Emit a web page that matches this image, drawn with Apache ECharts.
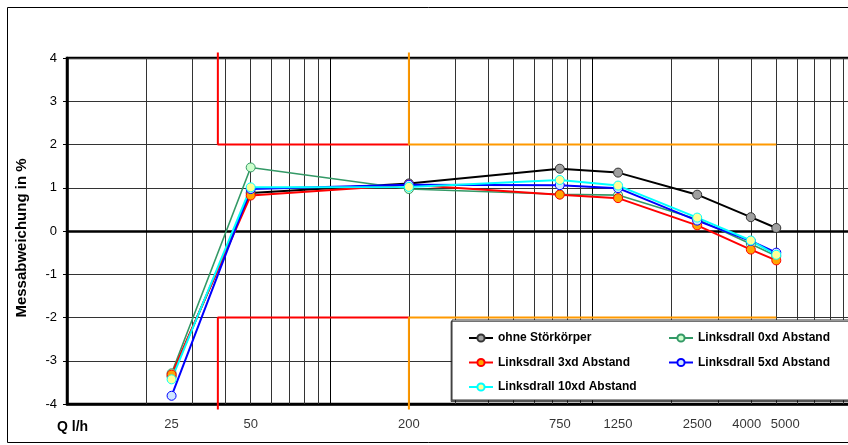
<!DOCTYPE html>
<html><head><meta charset="utf-8">
<script src="https://cdn.jsdelivr.net/npm/echarts@6/dist/echarts.min.js"></script>
<style>html,body{margin:0;padding:0;background:#fff}#c{width:848px;height:445px}</style>
</head><body><div id="c"></div>
<script>
// ---- data ----
var flowQ = [25, 50, 200, 750, 1250, 2500, 4000, 5000];
var xTickLabels = [25, 50, 200, 750, 1250, 2500, 4000, 5000];
var seriesNames = ['ohne Störkörper', 'Linksdrall 0xd Abstand', 'Linksdrall 3xd Abstand', 'Linksdrall 5xd Abstand', 'Linksdrall 10xd Abstand'];
var ohne   = [-3.36, 0.88, 1.10, 1.44, 1.35, 0.84, 0.32, 0.07];
var ld0xd  = [-3.29, 1.47, 0.97, 0.85, 0.83, 0.27, -0.30, -0.58];
var ld3xd  = [-3.32, 0.82, 1.07, 0.84, 0.76, 0.13, -0.43, -0.68];
var ld5xd  = [-3.81, 0.97, 1.07, 1.06, 0.99, 0.24, -0.23, -0.50];
var ld10xd = [-3.43, 1.01, 1.02, 1.18, 1.05, 0.31, -0.22, -0.55];
// error limits: Qmin, Qt, Qmax and tolerance
var limitQ = [37.5, 200, 5000];
var limitTol = 2;
var limitEdge = 4.13;   // limit lines run a little past the plot edge
var yTicks = [-4, -3, -2, -1, 0, 1, 2, 3, 4];

// ---- build ----
var chart = echarts.init(document.getElementById('c'), null, {renderer: 'canvas'});
var FONT = '"Liberation Sans", Arial, sans-serif';
function zip(xs, ys) { return xs.map(function (x, i) { return [x, ys[i]]; }); }

var styles = [
  {line: '#000000', fill: '#a0a0a0', border: '#333333', w: 2},
  {line: '#339966', fill: '#ccffcc', border: '#339966', w: 1.6},
  {line: '#ff0000', fill: '#ffa500', border: '#ff0000', w: 2},
  {line: '#0000ff', fill: '#cfe6ff', border: '#0000ff', w: 2},
  {line: '#00ffff', fill: '#ffff99', border: '#00ffff', w: 2}
];
var values = [ohne, ld0xd, ld3xd, ld5xd, ld10xd];

// minor vertical gridlines of the log axis (2..9 per decade)
var minorX = [];
[10, 100, 1000].forEach(function (d) { for (var m = 2; m <= 9; m++) minorX.push(d * m); });

var series = [];
series.push({
  name: '_grid', type: 'line', data: [], silent: true, z: 1,
  markLine: {
    silent: true, symbol: ['none', 'none'], label: {show: false}, animation: false, z: 1,
    lineStyle: {color: '#333', width: 1, type: 'solid'},
    data: minorX.map(function (v) { return {xAxis: v}; })
      .concat([{yAxis: 0, lineStyle: {color: '#000', width: 2.5, type: 'solid'}}])
  }
});

// limit lines
function limitSeries(color, x0, x1, sign) {
  return {
    name: '_lim', type: 'line', silent: true, clip: false, symbol: 'none', z: 3,
    lineStyle: {color: color, width: 2},
    data: [[x0, sign * limitEdge], [x0, sign * limitTol], [x1, sign * limitTol]]
  };
}
series.push(limitSeries('#ff0000', limitQ[0], limitQ[1], 1));
series.push(limitSeries('#ff0000', limitQ[0], limitQ[1], -1));
series.push(limitSeries('#ff9900', limitQ[1], limitQ[2], 1));
series.push(limitSeries('#ff9900', limitQ[1], limitQ[2], -1));

values.forEach(function (v, i) {
  var s = styles[i];
  series.push({
    name: seriesNames[i], type: 'line', z: 4,
    data: zip(flowQ, v),
    symbol: 'circle', symbolSize: 9,
    lineStyle: {color: s.line, width: s.w},
    itemStyle: {color: s.fill, borderColor: s.border, borderWidth: 1}
  });
});

// x tick labels, placed on the bottom axis at their flow values
var labelShift = {4000: [-4, 0], 5000: [9, 0]};
series.push({
  name: '_xlabels', type: 'scatter', silent: true, clip: false, symbolSize: 0, z: 5,
  data: xTickLabels.map(function (q) {
    return {value: [q, -4], label: {offset: labelShift[q] || [0, 0]}};
  }),
  label: {
    show: true, position: 'bottom', distance: 14,
    formatter: function (p) { return String(p.value[0]); },
    fontFamily: FONT, fontSize: 13, color: '#000'
  }
});

var legendText = {fontFamily: FONT, fontSize: 12, fontWeight: 'bold', color: '#000'};
var option = {
  animation: false,
  backgroundColor: '#fff',
  grid: {left: 67, top: 58, height: 346, width: 788.4, outerBoundsMode: 'none', containLabel: false,
         show: true, borderColor: '#000', borderWidth: 2.5, backgroundColor: 'transparent'},
  xAxis: {
    type: 'log', logBase: 10, min: 10, max: 10000,
    axisLine: {show: true, onZero: false, lineStyle: {color: '#000', width: 2.5}},
    axisTick: {show: false}, axisLabel: {show: false},
    splitLine: {show: true, lineStyle: {color: '#000', width: 1}}
  },
  yAxis: {
    type: 'value', min: yTicks[0], max: yTicks[yTicks.length - 1], interval: 1,
    axisLine: {show: true, lineStyle: {color: '#000', width: 2.5}},
    axisTick: {show: true, length: 4, lineStyle: {color: '#000'}},
    axisLabel: {fontFamily: FONT, fontSize: 13, color: '#000', margin: 10},
    splitLine: {show: true, lineStyle: {color: '#333', width: 1}}
  },
  legend: [
    {data: [seriesNames[0], seriesNames[2], seriesNames[4]], orient: 'vertical', left: 463, top: 327,
     itemWidth: 24, itemHeight: 9, itemGap: 12.5, textStyle: legendText, selectedMode: false, z: 10},
    {data: [seriesNames[1], seriesNames[3]], orient: 'vertical', left: 663, top: 327,
     itemWidth: 24, itemHeight: 9, itemGap: 12.5, textStyle: legendText, selectedMode: false, z: 10}
  ],
  graphic: [
    {type: 'rect', z: 0, silent: true, shape: {x: 7.5, y: 7.5, width: 900, height: 435},
     style: {fill: 'none', stroke: '#000', lineWidth: 1}},
    {type: 'rect', z: 8, silent: true, shape: {x: 452, y: 320, width: 420, height: 80},
     style: {fill: '#fff', stroke: '#333', lineWidth: 1, shadowColor: 'rgba(0,0,0,0.55)', shadowOffsetX: -1, shadowOffsetY: 1.5, shadowBlur: 0}},
    {type: 'text', z: 10, silent: true, x: 22, y: 238, rotation: Math.PI / 2,
     style: {text: 'Messabweichung in %', font: 'bold 15px ' + FONT, fill: '#000', align: 'center', verticalAlign: 'middle'}},
    {type: 'text', z: 10, silent: true, x: 57, y: 427,
     style: {text: 'Q l/h', font: 'bold 14px ' + FONT, fill: '#000', align: 'left', verticalAlign: 'middle'}}
  ],
  series: series
};
chart.setOption(option);
</script>
</body></html>
